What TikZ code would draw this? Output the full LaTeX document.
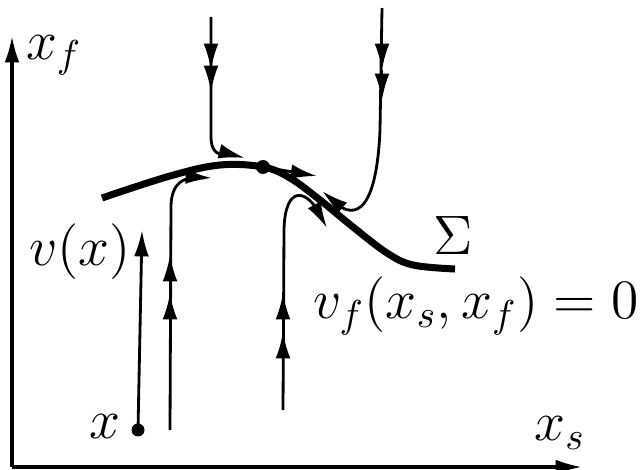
\documentclass[tikz,border=0pt]{standalone}
\usepackage{fix-cm}
\usepackage{amsmath}
\usepackage{amssymb}
\usetikzlibrary{positioning,arrows,arrows.meta}

\tikzset{
  traj/.style={line width=0.8pt,-{Latex[length=7.5pt,width=4.2pt]}},
  plain/.style={line width=0.8pt},
  axis/.style={line width=0.9pt,-{Latex[length=7.5pt,width=4.2pt]}},
  lbl/.style={font=\fontsize{15.8}{18}\selectfont,inner sep=0pt}
}

\begin{document}
\begin{tikzpicture}[x=0.01cm,y=-0.01cm]
        \useasboundingbox (0,0) rectangle (642,470);

        % Axes
        \coordinate (o) at (12,467);
        \coordinate (xend) at (582,467);
        \coordinate (yend) at (12,36);
        \draw[axis] (o) -- (xend);
        \draw[axis] (o) -- (yend);
        \node[lbl] (xs) at (560,433) {$x_s$};
        \node[lbl] (xf) at (54,55) {$x_f$};

        % Slow manifold
        \draw[line width=2pt] plot[smooth,tension=0.6] coordinates
            {(102,198) (170,176) (220,165) (263,167) (290,178) (320,200) (353,227) (387,253) (413,265) (455,269)};
        \coordinate (eq) at (263,167);
        \fill (eq) circle (7);
        \node[lbl] (sigma) at (453,236) {$\Sigma$};
        \node[lbl] (vf) at (476,306) {$v_f(x_s,x_f) = 0$};

        % Point x and its vector
        \coordinate (x0) at (138,430);
        \coordinate (vx) at (142,230);
        \fill (x0) circle (6.5);
        \draw[traj] (x0) -- (vx);
        \node[lbl] (xlab) at (105,427) {$x$};
        \node[lbl] (vxlab) at (80,252) {$v(x)$};

        % Fast trajectories from above
        \draw[plain] (211,17) -- (211,138) .. controls (212,160) and (226,153) .. (236,156);
        \draw[traj] (211,40) -- (211,70);
        \draw[traj] (211,70) -- (211,92);
        \draw[traj] (226,153) -- (245,158);
        \draw[plain] (382,8) -- (380,130) .. controls (376,222) and (350,218) .. (332,200);
        \draw[traj] (342,208) -- (322,191);
        \draw[traj] (382,40) -- (382,70);
        \draw[traj] (382,70) -- (382,100);

        % Fast trajectories from below
        \draw[plain] (170,430) -- (171,205) .. controls (172,178) and (190,176) .. (204,178);
        \draw[traj] (170,320) -- (170,293);
        \draw[traj] (170,293) -- (170,255);
        \draw[traj] (194,177) -- (212,178);
        \draw[plain] (283,410) -- (284,230) .. controls (285,183) and (308,190) .. (320,215);
        \draw[traj] (315,206) -- (327,228);
        \draw[traj] (283,360) -- (283,332);
        \draw[traj] (283,332) -- (283,293);

        % Slow flow along the manifold
        \draw[traj] (eq) -- (317,176);
    \end{tikzpicture}
\end{document}
